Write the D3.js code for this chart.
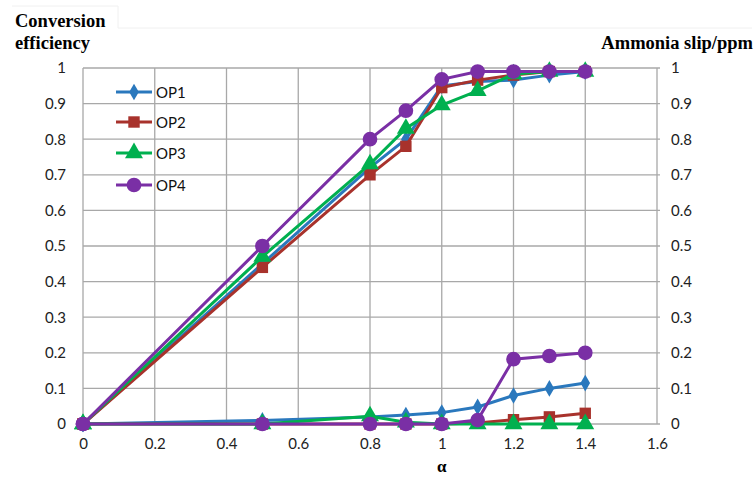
<!DOCTYPE html>
<html><head><meta charset="utf-8">
<script src="https://cdn.jsdelivr.net/npm/d3@7"></script>
<style>body{margin:0;background:#fff}svg{display:block}</style>
</head><body><svg id="c" width="756" height="479"></svg>
<script>
const alpha = [0, 0.5, 0.8, 0.9, 1.0, 1.1, 1.2, 1.3, 1.4];
const seriesNames = ["OP1", "OP2", "OP3", "OP4"];
// conversion efficiency (left axis)
const effOP1 = [0, 0.45, 0.72, 0.80, 0.95, 0.962, 0.966, 0.98, 0.99];
const effOP2 = [0, 0.44, 0.70, 0.78, 0.945, 0.966, 0.98, 0.99, 0.99];
const effOP3 = [0, 0.47, 0.73, 0.83, 0.896, 0.936, 0.983, 0.99, 0.99];
const effOP4 = [0, 0.50, 0.80, 0.88, 0.968, 0.99, 0.99, 0.99, 0.99];
// ammonia slip (right axis)
const slipOP1 = [0, 0.01, 0.02, 0.025, 0.032, 0.048, 0.08, 0.10, 0.115];
const slipOP2 = [0, 0, 0, 0, 0, 0.003, 0.012, 0.02, 0.03];
const slipOP3 = [0, 0, 0.022, 0.005, 0, 0, 0, 0, 0];
const slipOP4 = [0, 0, 0, 0, 0, 0.011, 0.182, 0.191, 0.20];
const xTicks = [0, 0.2, 0.4, 0.6, 0.8, 1, 1.2, 1.4, 1.6];
const yTicks = [0, 0.1, 0.2, 0.3, 0.4, 0.5, 0.6, 0.7, 0.8, 0.9, 1];

const colors = ["#2a78bd", "#a8322c", "#00b04f", "#7a2fa5"];
const shapes = [d3.symbolDiamond, d3.symbolSquare, d3.symbolTriangle, d3.symbolCircle];
const sizes = [80, 130, 140, 170];

const svg = d3.select("#c");
const L = 83, R = 657, T = 68, B = 424;
const x = d3.scaleLinear().domain([0, 1.6]).range([L, R]);
const yL = d3.scaleLinear().domain([0, 1]).range([B, T]);
const yR = d3.scaleLinear().domain([0, 1]).range([B, T]);

// faint scan frame
svg.append("path").attr("d", "M12,6H118V28H752").attr("fill", "none").attr("stroke", "#f0f0f0").attr("stroke-width", 1);

// grid
const grid = svg.append("g").attr("stroke", "#a8a8a8").attr("stroke-width", 1.3);
xTicks.forEach(t => grid.append("line").attr("x1", x(t)).attr("x2", x(t)).attr("y1", T).attr("y2", B));
yTicks.forEach(t => grid.append("line").attr("x1", L).attr("x2", R + 3).attr("y1", yL(t)).attr("y2", yL(t)));

const fmt = d => d === 0 ? "0" : d3.format("~g")(d);
const tickFont = "Lato, 'Open Sans', sans-serif";
// left axis
const gl = svg.append("g").attr("transform", `translate(${L},0)`)
  .call(d3.axisLeft(yL).tickValues(yTicks).tickFormat(fmt).tickSize(0).tickPadding(17));
gl.select(".domain").remove();
// right axis
const gr = svg.append("g").attr("transform", `translate(${R},0)`)
  .call(d3.axisRight(yR).tickValues(yTicks).tickFormat(fmt).tickSize(0).tickPadding(14));
gr.select(".domain").remove();
// bottom axis
const gb = svg.append("g").attr("transform", `translate(0,${B})`)
  .call(d3.axisBottom(x).tickValues(xTicks).tickFormat(fmt).tickSize(0).tickPadding(14));
gb.select(".domain").remove();
svg.selectAll(".tick text").attr("font-family", tickFont).attr("font-size", 15).attr("fill", "#222");

// titles
const serif = "'Liberation Serif', 'Times New Roman', serif";
svg.append("text").attr("x", 15).attr("y", 27).text("Conversion")
  .attr("font-family", serif).attr("font-weight", "bold").attr("font-size", 18.5);
svg.append("text").attr("x", 15).attr("y", 49).text("efficiency")
  .attr("font-family", serif).attr("font-weight", "bold").attr("font-size", 18.5);
svg.append("text").attr("x", 753).attr("y", 49).attr("text-anchor", "end").text("Ammonia slip/ppm")
  .attr("font-family", serif).attr("font-weight", "bold").attr("font-size", 18.5);
svg.append("text").attr("x", x(1)).attr("y", 472).attr("text-anchor", "middle").text("α")
  .attr("font-family", serif).attr("font-weight", "bold").attr("font-size", 17);

const effs = [effOP1, effOP2, effOP3, effOP4];
const slips = [slipOP1, slipOP2, slipOP3, slipOP4];

function drawSeries(vals, yScale, i) {
  const pts = alpha.map((a, k) => [a, vals[k]]);
  svg.append("path").datum(pts)
    .attr("d", d3.line().x(d => x(d[0])).y(d => yScale(d[1])))
    .attr("fill", "none").attr("stroke", colors[i]).attr("stroke-width", 3);
  svg.append("g").selectAll("path").data(pts).join("path")
    .attr("transform", d => `translate(${x(d[0])},${yScale(d[1])})`)
    .attr("d", d3.symbol().type(shapes[i]).size(sizes[i]))
    .attr("fill", colors[i]);
}
seriesNames.forEach((n, i) => drawSeries(slips[i], yR, i));
seriesNames.forEach((n, i) => drawSeries(effs[i], yL, i));

// legend
const legY = [92, 122, 153, 185];
seriesNames.forEach((n, i) => {
  const g = svg.append("g");
  g.append("line").attr("x1", 116).attr("x2", 152).attr("y1", legY[i]).attr("y2", legY[i])
    .attr("stroke", colors[i]).attr("stroke-width", 3);
  g.append("path").attr("transform", `translate(134,${legY[i]})`)
    .attr("d", d3.symbol().type(shapes[i]).size(sizes[i])).attr("fill", colors[i]);
  g.append("text").attr("x", 156).attr("y", legY[i] + 5.5).text(n)
    .attr("font-family", tickFont).attr("font-size", 15).attr("fill", "#111");
});
</script></body></html>
